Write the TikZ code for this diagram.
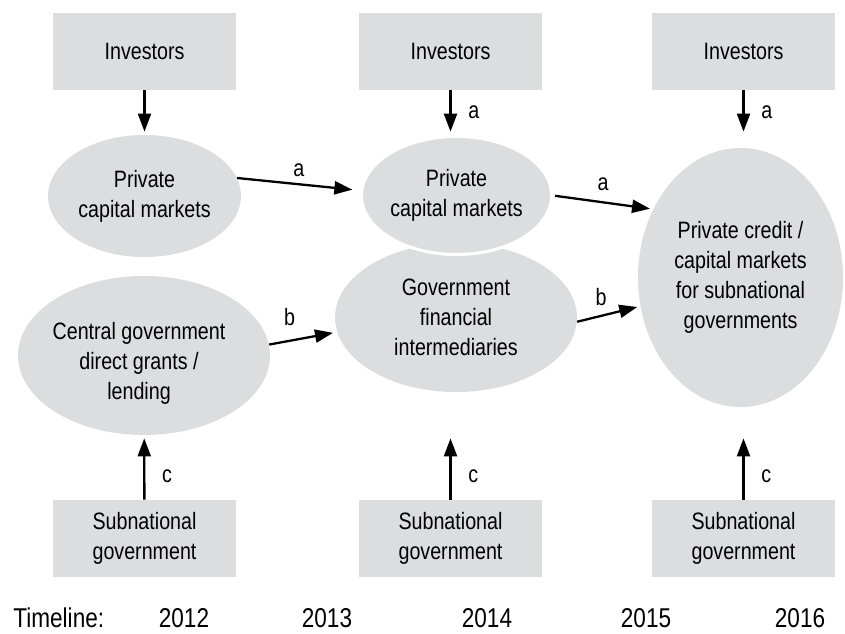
\documentclass[tikz,border=0pt]{standalone}
\usepackage{fontspec}
\setmainfont{Liberation Sans}[FakeStretch=0.83]
\usetikzlibrary{arrows.meta,shapes,calc,positioning}
\definecolor{panel}{RGB}{220,221,222}

\begin{document}
\begin{tikzpicture}[x=0.5pt,y=-0.5pt,font=\fontsize{11.85}{15}\selectfont]
    \tikzstyle{block}=[fill=panel, minimum width=91.5pt, minimum height=38.5pt, align=center, inner sep=0pt]
    \tikzstyle{oval}=[ellipse, fill=panel, inner sep=0pt, align=center]
    \tikzstyle{flow}=[-{Triangle[length=9pt,width=6.5pt]}, line width=1.15pt]
    \tikzstyle{year}=[anchor=base, inner sep=0pt, font=\fontsize{13.6}{16}\selectfont]

    \useasboundingbox (0,0) rectangle (845,633);

    % investors
    \node[block] (inv1) at (144.5,51.5) {Investors};
    \node[block] (inv2) at (450.5,51.5) {Investors};
    \node[block] (inv3) at (743.5,51.5) {Investors};

    % markets and intermediaries
    \node[oval, minimum width=96.5pt, minimum height=61pt] (pcm1) at (144.5,196) {Private\\capital markets};
    \node[oval, minimum width=126pt, minimum height=79.5pt] (cgov) at (144,355.5) {};
    \node[align=center] (cgovtxt) at (139,363) {Central government\\direct grants /\\lending};
    \node[oval, minimum width=121pt, minimum height=74.5pt] (gfi) at (456,317.5) {Government\\financial\\intermediaries};
    \node[oval, draw=white, line width=1.5pt, minimum width=95pt, minimum height=59pt] (pcm2) at (456.5,195.5) {Private\\capital markets};
    \node[oval, minimum width=102.5pt, minimum height=129.5pt] (pcsg) at (740.5,277.5) {Private credit /\\capital markets\\for subnational\\governments};

    % subnational governments
    \node[block] (sub1) at (144.5,538.5) {Subnational\\government};
    \node[block] (sub2) at (450.5,538.5) {Subnational\\government};
    \node[block] (sub3) at (743.5,538.5) {Subnational\\government};

    % timeline
    \node[year, anchor=base west] (tl) at (13,627) {Timeline:};
    \foreach \yr/\xp in {2012/184,2013/327,2014/487,2015/646,2016/800}
        \node[year] (yr\yr) at (\xp,627) {\yr};

    \draw[flow, shorten >=1.5pt] (inv1) -- (inv1.south |- pcm1.north);
    \draw[flow, shorten >=1.5pt] (inv2) -- node[right=5pt] {a} (inv2.south |- pcm1.north);
    \draw[flow, shorten >=1.5pt] (inv3) -- node[right=5pt] {a} (inv3.south |- pcm1.north);

    \draw[flow, shorten >=4pt] (pcm1.11) -- node[above] {a} (pcm2.177);
    \draw[flow, shorten <=1pt, shorten >=1.5pt] (pcm2.east) -- node[above=2pt] {a} (pcsg.142);
    \draw[flow, shorten >=2pt] (cgov.5) -- node[above=3.5pt, pos=0.3] {b} (gfi.187);
    \draw[flow, shorten >=1.5pt] (gfi.-2) -- node[above=1pt, pos=0.38] {b} (pcsg.196);

    \draw[flow, shorten >=1.5pt] (sub1) -- node[right=5pt, pos=0.36] {c} (cgov);
    \draw[flow, shorten >=1.5pt] (sub2) -- node[right=5pt, pos=0.36] {c} (sub2.north |- cgov.south);
    \draw[flow, shorten >=1.5pt] (sub3) -- node[right=5pt, pos=0.36] {c} (sub3.north |- cgov.south);
\end{tikzpicture}
\end{document}
